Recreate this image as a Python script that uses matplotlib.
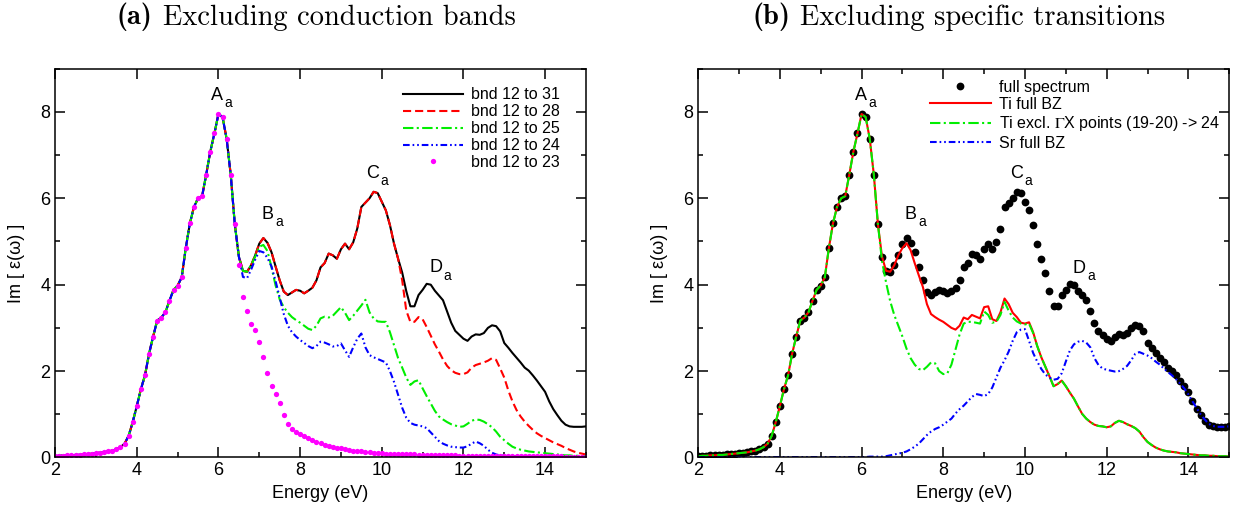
import numpy as np
import matplotlib
matplotlib.use("Agg")
import matplotlib.pyplot as plt
from matplotlib.ticker import MultipleLocator

plt.rcParams["font.family"] = ["Liberation Sans", "DejaVu Sans"]

# photon energy grid (eV), 0.1 eV steps from 2 to 15
energy = np.round(np.arange(2.0, 15.05, 0.1), 1)

# full spectrum (bnd 12 to 31), one value per 0.1 eV
full_spectrum = np.array([
    0.03, 0.04, 0.04, 0.05, 0.05, 0.06, 0.06, 0.07, 0.08, 0.09,   # 2.x
    0.10, 0.11, 0.12, 0.14, 0.16, 0.19, 0.24, 0.32, 0.50, 0.82,   # 3.x
    1.19, 1.58, 1.90, 2.40, 2.80, 3.17, 3.24, 3.36, 3.63, 3.88,   # 4.x
    3.98, 4.17, 4.85, 5.42, 5.80, 6.00, 6.05, 6.55, 7.08, 7.50,   # 5.x
    7.95, 7.88, 7.38, 6.55, 5.40, 4.65, 4.32, 4.30, 4.45, 4.68,   # 6.x
    4.95, 5.08, 4.97, 4.75, 4.42, 4.10, 3.84, 3.76, 3.82, 3.88,   # 7.x
    3.86, 3.80, 3.86, 3.93, 4.10, 4.40, 4.50, 4.72, 4.68, 4.60,   # 8.x
    4.82, 4.95, 4.82, 4.98, 5.30, 5.80, 5.90, 6.00, 6.15, 6.12,   # 9.x
    5.92, 5.72, 5.38, 4.95, 4.60, 4.28, 3.85, 3.50, 3.50, 3.76,   # 10.x
    3.88, 4.02, 4.00, 3.86, 3.75, 3.64, 3.38, 3.12, 2.93, 2.84,   # 11.x
    2.75, 2.70, 2.80, 2.85, 2.84, 2.88, 3.00, 3.06, 3.04, 2.92,   # 12.x
    2.65, 2.54, 2.42, 2.31, 2.20, 2.08, 2.01, 1.90, 1.78, 1.65,   # 13.x
    1.52, 1.30, 1.12, 0.98, 0.85, 0.76, 0.72, 0.71, 0.71, 0.71,   # 14.x
    0.72,
])

# (a) curves where they leave the full spectrum; each tail ends at 15.0 eV
bnd28_tail = [  # from 10.5 eV
    4.10, 3.40, 3.14, 3.14, 3.25,
    3.20, 3.02, 2.82, 2.62, 2.45, 2.27, 2.12, 2.02, 1.96, 1.93,
    1.93, 1.97, 2.08, 2.14, 2.17, 2.20, 2.24, 2.30, 2.26, 2.06,
    1.85, 1.55, 1.30, 1.10, 0.95, 0.83, 0.73, 0.64, 0.56, 0.50,
    0.45, 0.40, 0.35, 0.31, 0.27, 0.22, 0.18, 0.14, 0.11, 0.09,
    0.07,
]
bnd25_tail = [  # from 6.9 eV
    4.65,
    4.88, 4.92, 4.78, 4.40, 3.98, 3.66, 3.48, 3.35, 3.25, 3.18,
    3.12, 3.05, 2.98, 2.95, 3.05, 3.22, 3.26, 3.24, 3.28, 3.38,
    3.48, 3.35, 3.18, 3.28, 3.40, 3.52, 3.65, 3.36, 3.22, 3.15,
    3.14, 3.14, 2.90, 2.60, 2.30, 2.08, 1.85, 1.68, 1.76, 1.79,
    1.60, 1.42, 1.25, 1.08, 0.95, 0.88, 0.82, 0.77, 0.74, 0.71,
    0.72, 0.78, 0.85, 0.88, 0.87, 0.83, 0.77, 0.70, 0.60, 0.48,
    0.40, 0.32, 0.25, 0.21, 0.18, 0.16, 0.14, 0.13, 0.12, 0.11,
    0.10, 0.09, 0.08, 0.07, 0.06, 0.05, 0.05, 0.04, 0.04, 0.03,
    0.03,
]
bnd24_tail = [  # from 6.6 eV
    4.18, 4.15, 4.35, 4.58,
    4.78, 4.75, 4.62, 4.42, 4.08, 3.70, 3.32, 3.05, 2.90, 2.80,
    2.72, 2.65, 2.58, 2.53, 2.58, 2.68, 2.66, 2.62, 2.57, 2.58,
    2.64, 2.48, 2.33, 2.55, 2.75, 2.87, 2.55, 2.37, 2.32, 2.28,
    2.24, 2.20, 2.00, 1.75, 1.45, 1.15, 0.92, 0.80, 0.76, 0.74,
    0.72, 0.68, 0.58, 0.48, 0.38, 0.32, 0.28, 0.25, 0.24, 0.23,
    0.23, 0.26, 0.32, 0.37, 0.33, 0.27, 0.18, 0.11, 0.07, 0.05,
    0.04, 0.03, 0.03, 0.03, 0.02, 0.02, 0.02, 0.02, 0.02, 0.02,
    0.02, 0.02, 0.01, 0.01, 0.01, 0.01, 0.01, 0.01, 0.01, 0.01,
    0.01,
]
bnd23_tail = [  # from 6.5 eV
    4.45, 3.72, 3.38, 3.08, 2.94,
    2.67, 2.32, 1.95, 1.65, 1.46, 1.25, 0.99, 0.77, 0.65, 0.59,
    0.54, 0.49, 0.44, 0.40, 0.36, 0.33, 0.30, 0.27, 0.25, 0.23,
    0.21, 0.19, 0.17, 0.16, 0.15, 0.14, 0.13, 0.12, 0.11, 0.10,
    0.10, 0.09, 0.09, 0.08, 0.08, 0.08, 0.07, 0.07, 0.07, 0.06,
    0.06, 0.06, 0.06, 0.05, 0.05, 0.05, 0.05, 0.05, 0.05, 0.04,
    0.04, 0.04, 0.04, 0.04, 0.04, 0.04, 0.04, 0.04, 0.04, 0.04,
    0.03, 0.03, 0.03, 0.03, 0.03, 0.03, 0.03, 0.03, 0.03, 0.03,
    0.03, 0.03, 0.03, 0.03, 0.03, 0.02, 0.02, 0.02, 0.02, 0.02,
    0.02,
]

# (b) curves
ti_full_tail = [  # from 7.0 eV
    4.85, 4.96, 4.80, 4.50, 4.22, 3.95, 3.55, 3.32, 3.25, 3.19,
    3.14, 3.07, 3.00, 2.96, 3.05, 3.24, 3.20, 3.30, 3.26, 3.22,
    3.48, 3.50, 3.20, 3.16, 3.36, 3.68, 3.55, 3.35, 3.25, 3.12,
    3.10, 3.13, 2.90, 2.58, 2.32, 2.10, 1.88, 1.65, 1.70, 1.78,
    1.65, 1.50, 1.36, 1.18, 1.01, 0.90, 0.82, 0.76, 0.73, 0.72,
    0.70, 0.72, 0.80, 0.85, 0.82, 0.77, 0.73, 0.68, 0.60, 0.47,
    0.36, 0.29, 0.23, 0.19, 0.16, 0.14, 0.13, 0.12, 0.10, 0.09,
    0.08, 0.07, 0.06, 0.05, 0.05, 0.04, 0.04, 0.03, 0.03, 0.03,
    0.02,
]
ti_excl_tail = [  # from 6.5 eV
    4.55, 4.05, 3.62, 3.30, 3.05,
    2.80, 2.52, 2.30, 2.15, 2.05, 2.02, 2.10, 2.20, 2.18, 2.00,
    1.93, 1.95, 2.15, 2.50, 2.85, 3.10, 3.14, 3.14, 3.12, 3.10,
    3.38, 3.30, 3.12, 3.14, 3.30, 3.60, 3.40, 3.24, 3.15, 3.10,
    3.08, 3.10, 2.88, 2.58, 2.32, 2.10, 1.88, 1.65, 1.70, 1.78,
    1.65, 1.50, 1.36, 1.18, 1.01, 0.90, 0.82, 0.76, 0.73, 0.72,
    0.70, 0.72, 0.80, 0.85, 0.82, 0.77, 0.73, 0.68, 0.60, 0.47,
    0.36, 0.29, 0.23, 0.19, 0.16, 0.14, 0.13, 0.12, 0.10, 0.09,
    0.08, 0.07, 0.06, 0.05, 0.05, 0.04, 0.04, 0.03, 0.03, 0.03,
    0.02,
]
sr_full = np.array([
    0.01, 0.01, 0.01, 0.01, 0.01, 0.01, 0.01, 0.01, 0.01, 0.01,   # 2.x
    0.01, 0.01, 0.01, 0.01, 0.01, 0.01, 0.01, 0.01, 0.01, 0.01,   # 3.x
    0.01, 0.01, 0.01, 0.01, 0.01, 0.01, 0.01, 0.01, 0.01, 0.01,   # 4.x
    0.01, 0.01, 0.01, 0.01, 0.01, 0.01, 0.01, 0.01, 0.01, 0.01,   # 5.x
    0.01, 0.01, 0.02, 0.02, 0.02, 0.02, 0.03, 0.05, 0.07, 0.09,   # 6.x
    0.11, 0.14, 0.19, 0.25, 0.32, 0.42, 0.52, 0.60, 0.66, 0.70,   # 7.x
    0.76, 0.83, 0.90, 1.02, 1.12, 1.20, 1.30, 1.40, 1.47, 1.45,   # 8.x
    1.42, 1.47, 1.62, 1.85, 2.08, 2.25, 2.45, 2.70, 2.90, 2.96,   # 9.x
    2.97, 2.70, 2.42, 2.22, 2.05, 1.92, 1.85, 1.80, 1.82, 1.95,   # 10.x
    2.22, 2.48, 2.62, 2.68, 2.70, 2.66, 2.55, 2.30, 2.14, 2.06,   # 11.x
    2.03, 2.01, 1.99, 2.00, 2.05, 2.12, 2.25, 2.40, 2.44, 2.40,   # 12.x
    2.36, 2.30, 2.22, 2.15, 2.06, 1.98, 1.90, 1.81, 1.71, 1.60,   # 13.x
    1.46, 1.30, 1.15, 1.00, 0.88, 0.78, 0.73, 0.71, 0.71, 0.71,   # 14.x
    0.72,
])


def with_tail(tail):
    """Full spectrum below the divergence point, own values above it."""
    n = len(energy) - len(tail)
    return np.concatenate([full_spectrum[:n], np.asarray(tail)])


bnd28 = with_tail(bnd28_tail)
bnd25 = with_tail(bnd25_tail)
bnd24 = with_tail(bnd24_tail)
bnd23 = with_tail(bnd23_tail)
ti_full = with_tail(ti_full_tail)
ti_excl = with_tail(ti_excl_tail)

# peak labels: letter left edge (eV) and baseline (Im eps)
peak_labels = ["A", "B", "C", "D"]
peaks_a = [(5.81, 8.28), (7.06, 5.52), (9.61, 6.47), (11.16, 4.29)]
peaks_b = [(5.84, 8.28), (7.06, 5.52), (9.63, 6.47), (11.17, 4.28)]

DASHED = (0, (3.9, 1.9))
DASHDOT = (0, (5, 1.6, 1, 1.6))
DASHDOTDOT = (0, (3.2, 1.4, 0.8, 1.4, 0.8, 1.4))

fig = plt.figure(figsize=(12.39, 5.11), dpi=100)
ax1 = fig.add_axes([0.0445, 0.1047, 0.4284, 0.7609])
ax2 = fig.add_axes([0.5635, 0.1047, 0.4286, 0.7609])

lw = 1.5
ax1.plot(energy, full_spectrum, color="black", lw=lw, label="bnd 12 to 31")
ax1.plot(energy, bnd28, color="red", lw=lw, ls=DASHED, label="bnd 12 to 28")
ax1.plot(energy, bnd25, color="#00ee00", lw=lw, ls=DASHDOT, label="bnd 12 to 25")
ax1.plot(energy, bnd24, color="blue", lw=lw, ls=DASHDOTDOT, label="bnd 12 to 24")
ax1.plot(energy, bnd23, ls="none", marker="o", ms=3.8, mec="none", color="magenta",
         label="bnd 12 to 23")

ax2.plot(energy, full_spectrum, ls="none", marker="o", ms=5.6, mec="none", color="black",
         label="full spectrum")
ax2.plot(energy, ti_full, color="red", lw=lw, label="Ti full BZ")
ax2.plot(energy, ti_excl, color="#00ee00", lw=lw, ls=DASHDOT,
         label=r"Ti excl. $\Gamma$X points (19-20) -> 24")
ax2.plot(energy, sr_full, color="blue", lw=lw, ls=DASHDOTDOT, label="Sr full BZ")

for ax, peaks in [(ax1, peaks_a), (ax2, peaks_b)]:
    ax.set_xlim(2, 15)
    ax.set_ylim(0, 9)
    ax.xaxis.set_major_locator(MultipleLocator(2))
    ax.xaxis.set_minor_locator(MultipleLocator(1))
    ax.yaxis.set_major_locator(MultipleLocator(2))
    ax.yaxis.set_minor_locator(MultipleLocator(1))
    ax.tick_params(which="both", direction="in", top=True, right=True,
                   labelsize=13, width=1.1)
    ax.tick_params(which="major", length=7)
    ax.tick_params(which="minor", length=3.5)
    for sp in ax.spines.values():
        sp.set_linewidth(1.1)
    ax.set_xlabel("Energy (eV)", fontsize=13)
    ax.set_ylabel("Im [ ε(ω) ]", fontsize=13)
    ax.yaxis.set_label_coords(-0.057, 0.5)
    for name, (x, y) in zip(peak_labels, peaks):
        letter = ax.text(x, y, name, fontsize=13, ha="left", va="baseline")
        ax.annotate("a", xy=(1, 0), xycoords=letter, xytext=(1, -2.5),
                    textcoords="offset points", fontsize=10, ha="left", va="baseline")

ax1.tick_params(which="minor", top=False)

leg1 = ax1.legend(loc="upper left", bbox_to_anchor=(0.655, 0.952), frameon=False,
                  fontsize=11.5, handlelength=3.8, handletextpad=0.5,
                  labelspacing=0.12, borderpad=0, borderaxespad=0)
leg2 = ax2.legend(loc="upper left", bbox_to_anchor=(0.4366, 0.972), frameon=False,
                  fontsize=11.5, handlelength=3.8, handletextpad=0.5,
                  labelspacing=0.15, borderpad=0, borderaxespad=0)
leg2.get_texts()[2].set_math_fontfamily("stix")

# panel titles: bold tag in cmb10, rest in cmr10
for x0, tag, rest in [(0.0944, "(a)", "Excluding conduction bands"),
                      (0.6070, "(b)", "Excluding specific transitions")]:
    t = fig.text(x0, 0.968, tag, family="cmb10", fontsize=20.5, ha="left", va="center")
    fig.add_artist(matplotlib.text.Annotation(
        rest, xy=(1, 0), xycoords=t, xytext=(7, 0), textcoords="offset points",
        family="cmr10", fontsize=20.5, ha="left", va="bottom"))

fig.savefig("out.png", dpi=100)
